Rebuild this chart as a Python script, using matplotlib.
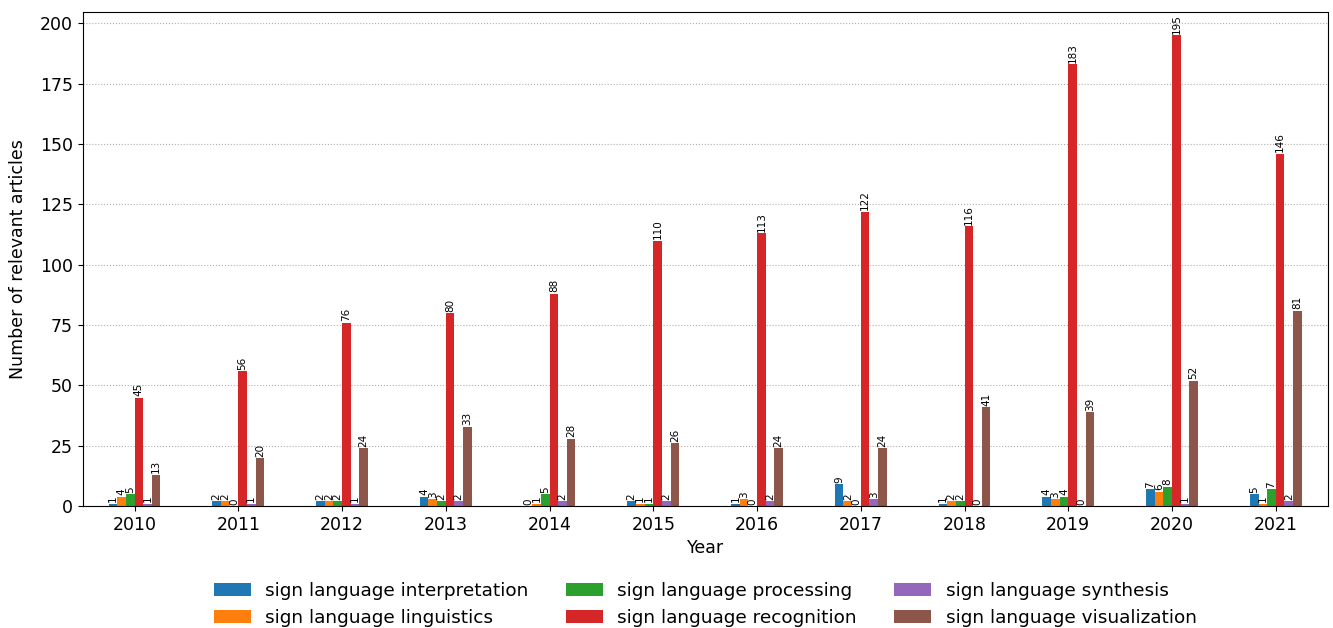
import numpy as np
import matplotlib
matplotlib.use("Agg")
import matplotlib.pyplot as plt

# Articles per year and topic
years = [2010, 2011, 2012, 2013, 2014, 2015, 2016, 2017, 2018, 2019, 2020, 2021]
topics = [
    "sign language interpretation",
    "sign language linguistics",
    "sign language processing",
    "sign language recognition",
    "sign language synthesis",
    "sign language visualization",
]
interpretation = [1, 2, 2, 4, 0, 2, 1, 9, 1, 4, 7, 5]
linguistics = [4, 2, 2, 3, 1, 1, 3, 2, 2, 3, 6, 1]
processing = [5, 0, 2, 2, 5, 1, 0, 0, 2, 4, 8, 7]
recognition = [45, 56, 76, 80, 88, 110, 113, 122, 116, 183, 195, 146]
synthesis = [1, 1, 1, 2, 2, 2, 2, 3, 0, 0, 1, 2]
visualization = [13, 20, 24, 33, 28, 26, 24, 24, 41, 39, 52, 81]

series = [interpretation, linguistics, processing, recognition, synthesis, visualization]
colors = ["#1f77b4", "#ff7f0e", "#2ca02c", "#d62728", "#9467bd", "#8c564b"]

fig, ax = plt.subplots(figsize=(13.33, 6.28), dpi=100)

x = np.arange(len(years))
w = 0.5 / len(series)
for i, (vals, name, c) in enumerate(zip(series, topics, colors)):
    bars = ax.bar(x + (i - (len(series) - 1) / 2) * w, vals, w, color=c, label=name)
    ax.bar_label(bars, rotation=90, fontsize=7.5, padding=1)

ax.set_xticks(x)
ax.set_xticklabels([str(y) for y in years], fontsize=12.5)
ax.tick_params(axis="y", labelsize=12.5)
ax.set_xlim(-0.5, len(years) - 0.5)
ax.set_xlabel("Year", fontsize=12.5)
ax.set_ylabel("Number of relevant articles", fontsize=12.5, labelpad=9)
ax.yaxis.grid(True, linestyle=":", color="#b0b0b0")
ax.set_axisbelow(True)

ax.legend(loc="upper center", bbox_to_anchor=(0.5, -0.12), ncol=3, frameon=False,
          fontsize=13.3)

plt.subplots_adjust(left=0.062, right=0.996, top=0.981, bottom=0.194)
plt.savefig("out.png")
